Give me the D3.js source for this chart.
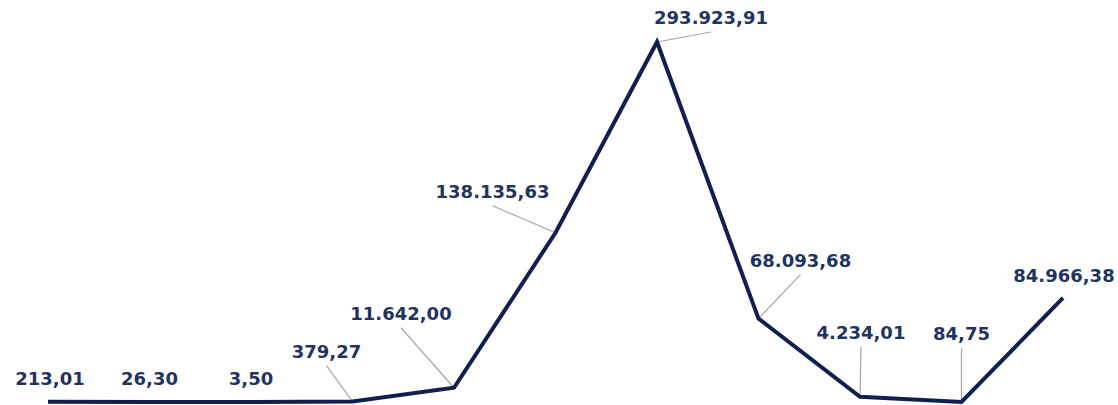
<!DOCTYPE html>
<html><head><meta charset="utf-8">
<script src="https://cdn.jsdelivr.net/npm/d3@7"></script>
<style>body{margin:0;background:#fff}svg{display:block}</style>
</head><body><svg id="c" width="1118" height="405"></svg>
<script>
const categories = ["P1","P2","P3","P4","P5","P6","P7","P8","P9","P10","P11"];
const values = [213.01, 26.30, 3.50, 379.27, 11642.00, 138135.63, 293923.91, 68093.68, 4234.01, 84.75, 84966.38];
const labels = ["213,01","26,30","3,50","379,27","11.642,00","138.135,63","293.923,91","68.093,68","4.234,01","84,75","84.966,38"];
// label placement offsets (dx, dy from point to label baseline-center) and whether a leader line is drawn
const labelOffsets = [[2,-17],[0,-17],[0,-17],[-26,-44],[-53,-68],[-63,-35],[54,-18],[42,-52],[1,-58],[0,-62],[1,-16]];
const leaders = [false,false,false,true,true,true,true,true,true,true,false];

const svg = d3.select("#c");
const x = d3.scalePoint().domain(categories).range([48,1063]);
const y = d3.scaleLinear().domain([0,293923.91]).range([402,42]);

const data = categories.map((c,i)=>({c, v:values[i], l:labels[i], o:labelOffsets[i], lead:leaders[i]}));

svg.selectAll("line.lead").data(data.filter(d=>d.lead)).join("line")
  .attr("class","lead")
  .attr("x1",d=>x(d.c)+d.o[0]).attr("y1",d=>y(d.v)+d.o[1]+8)
  .attr("x2",d=>x(d.c)).attr("y2",d=>y(d.v))
  .attr("stroke","#a6a6a6").attr("stroke-width",1.2);

svg.append("path").datum(data)
  .attr("d", d3.line().x(d=>x(d.c)).y(d=>y(d.v)))
  .attr("fill","none").attr("stroke","#0e1f50").attr("stroke-width",4)
  .attr("stroke-linejoin","miter");

svg.selectAll("text.lab").data(data).join("text")
  .attr("class","lab")
  .attr("x",d=>x(d.c)+d.o[0]).attr("y",d=>y(d.v)+d.o[1])
  .attr("text-anchor","middle")
  .attr("font-family","DejaVu Sans, Verdana, sans-serif")
  .attr("font-weight","bold").attr("font-size",18)
  .attr("fill","#1f3462")
  .text(d=>d.l);
</script></body></html>
